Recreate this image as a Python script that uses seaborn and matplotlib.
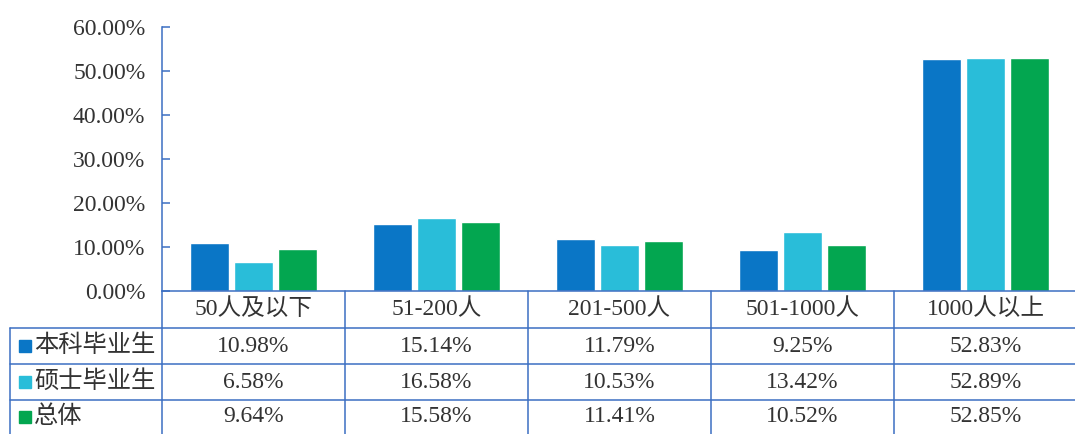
import matplotlib
matplotlib.use("Agg")
import matplotlib.pyplot as plt
import seaborn as sns
import pandas as pd
from matplotlib.transforms import blended_transform_factory

# 数据
categories = ["50人及以下", "51-200人", "201-500人", "501-1000人", "1000人以上"]
series = ["本科毕业生", "硕士毕业生", "总体"]
benke = [10.98, 15.14, 11.79, 9.25, 52.83]
shuoshi = [6.58, 16.58, 10.53, 13.42, 52.89]
zongti = [9.64, 15.58, 11.41, 10.52, 52.85]
yticks = [0, 10, 20, 30, 40, 50, 60]

colors = ["#0A76C6", "#29BDD9", "#03A650"]
line_c = "#3C6FC2"
text_c = "#333333"

rows = [benke, shuoshi, zongti]
df = pd.DataFrame({
    "类别": categories * 3,
    "占比": benke + shuoshi + zongti,
    "系列": [s for s in series for _ in categories],
})

sns.set_theme(style="white")
plt.rcParams['font.family'] = ['Liberation Serif', 'Noto Sans CJK SC']

W, H = 1075, 434
fig = plt.figure(figsize=(W / 100, H / 100), dpi=100)
ax = fig.add_axes([162 / W, 1 - 291 / H, 915 / W, 264 / H])

sns.barplot(data=df, x="类别", y="占比", hue="系列", palette=colors,
            width=0.72, gap=0.12, saturation=1, legend=False, ax=ax)

ax.set_xlim(-0.5, 4.5)
ax.set_ylim(0, 60)
ax.set_xticks([])
ax.set_yticks(yticks)
ax.set_yticklabels([f"{v:.2f}%" for v in yticks])
ax.set_xlabel("")
ax.set_ylabel("")
ax.tick_params(axis="y", direction="in", length=6, width=1.1, color=line_c,
               labelsize=17, labelcolor=text_c, pad=12, left=True)
for s in ["top", "right"]:
    ax.spines[s].set_visible(False)
for s in ["left", "bottom"]:
    ax.spines[s].set_color(line_c)
    ax.spines[s].set_linewidth(1.1)

# 数据表
tr = blended_transform_factory(ax.transData, fig.transFigure)
px2x = lambda px: -0.5 + (px - 162) / 183
py = lambda p: 1 - p / H
x_left = px2x(10)
lw = 1.1

for i in range(len(categories) + 1):
    ax.plot([i - 0.5, i - 0.5], [py(291), 0], color=line_c, lw=lw,
            transform=tr, clip_on=False)
ax.plot([x_left, x_left], [py(328), 0], color=line_c, lw=lw,
        transform=tr, clip_on=False)
for yp in [328, 364, 400]:
    ax.plot([x_left, 4.5], [py(yp), py(yp)], color=line_c, lw=lw,
            transform=tr, clip_on=False)

for i, c in enumerate(categories):
    ax.text(i, py(309.5), c, transform=tr, ha="center", va="center",
            fontsize=17, color=text_c)

row_y = [346, 382, 417]
for r, (name, vals, col) in enumerate(zip(series, rows, colors)):
    ax.plot([px2x(25)], [py(row_y[r])], marker="s", markersize=8, color=col,
            transform=tr, clip_on=False)
    ax.text(px2x(34), py(row_y[r]), name, transform=tr, ha="left",
            va="center", fontsize=17.5, color=text_c)
    for i, v in enumerate(vals):
        ax.text(i, py(row_y[r]), f"{v:.2f}%", transform=tr, ha="center",
                va="center", fontsize=17, color=text_c)

fig.savefig("out.png", dpi=100)
